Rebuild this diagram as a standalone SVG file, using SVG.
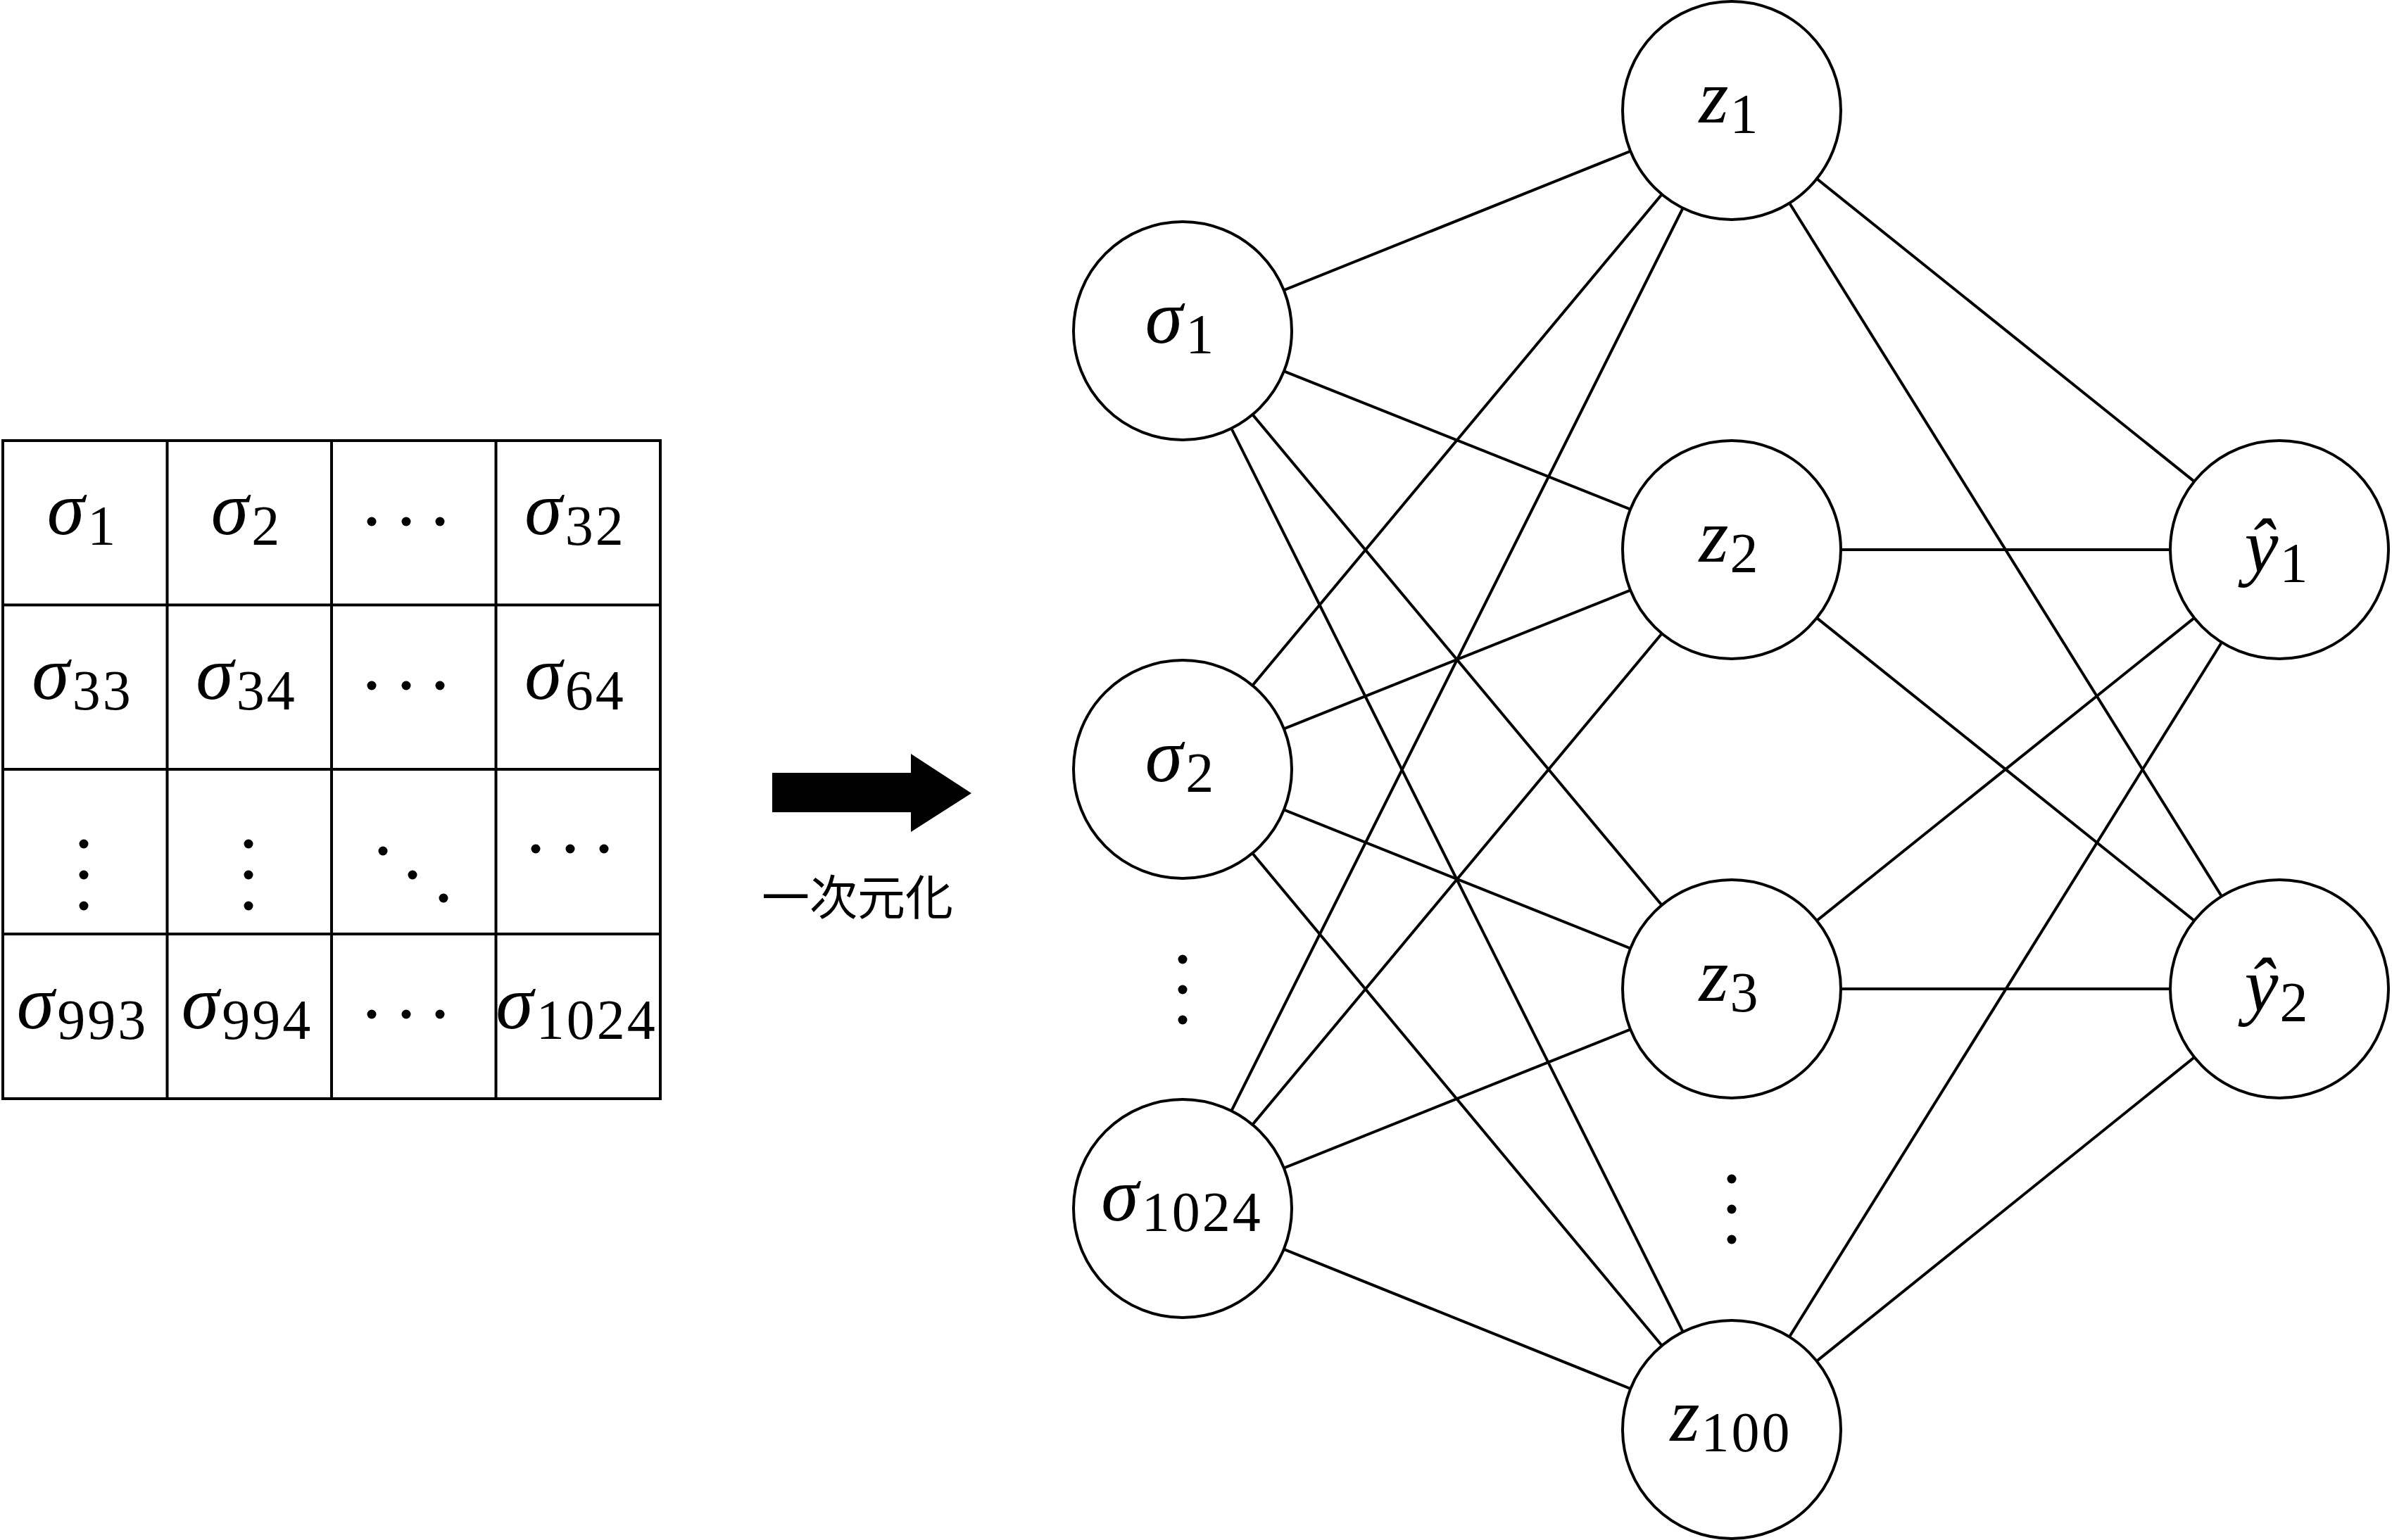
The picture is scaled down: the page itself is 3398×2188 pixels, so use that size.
<svg xmlns="http://www.w3.org/2000/svg" width="3398" height="2188" viewBox="0 0 3398 2188">
<style>
.ln{stroke:#000;stroke-width:4;fill:none}
.node{fill:#fff;stroke:#000;stroke-width:4}
.m{font-family:"Liberation Serif","DejaVu Serif",serif;font-size:108px;font-style:italic;text-anchor:middle;fill:#000}
.s{font-style:normal;font-size:80px;letter-spacing:3px}
.dot{fill:#000}
.cjk{font-family:"Noto Sans CJK JP","Noto Sans CJK SC",sans-serif;font-size:68px;text-anchor:middle;fill:#000}
</style>
<rect width="3398" height="2188" fill="#fff"/>
<g id="grid">
<rect class="ln" x="4" y="626" width="934" height="935"/>
<line class="ln" x1="237.5" y1="626" x2="237.5" y2="1561"/>
<line class="ln" x1="471" y1="626" x2="471" y2="1561"/>
<line class="ln" x1="704.5" y1="626" x2="704.5" y2="1561"/>
<line class="ln" x1="4" y1="859.5" x2="938" y2="859.5"/>
<line class="ln" x1="4" y1="1093" x2="938" y2="1093"/>
<line class="ln" x1="4" y1="1327" x2="938" y2="1327"/>
<text class="m" x="117" y="759">σ<tspan class="s" dx="4" dy="15">1</tspan></text>
<text class="m" x="350" y="759">σ<tspan class="s" dx="4" dy="15">2</tspan></text>
<text class="m" x="817" y="759">σ<tspan class="s" dx="4" dy="15">32</tspan></text>
<text class="m" x="117" y="993">σ<tspan class="s" dx="4" dy="15">33</tspan></text>
<text class="m" x="350" y="993">σ<tspan class="s" dx="4" dy="15">34</tspan></text>
<text class="m" x="817" y="993">σ<tspan class="s" dx="4" dy="15">64</tspan></text>
<text class="m" x="117" y="1461">σ<tspan class="s" dx="4" dy="15">993</tspan></text>
<text class="m" x="351" y="1461">σ<tspan class="s" dx="4" dy="15">994</tspan></text>
<text class="m" x="819" y="1461">σ<tspan class="s" dx="4" dy="15">1024</tspan></text>
<g class="dot">
<circle cx="528" cy="741" r="6.5"/><circle cx="577" cy="741" r="6.5"/><circle cx="625" cy="741" r="6.5"/>
<circle cx="528" cy="974" r="6.5"/><circle cx="577" cy="974" r="6.5"/><circle cx="625" cy="974" r="6.5"/>
<circle cx="528" cy="1441" r="6.5"/><circle cx="577" cy="1441" r="6.5"/><circle cx="625" cy="1441" r="6.5"/>
<circle cx="119" cy="1199" r="6.5"/><circle cx="119" cy="1243" r="6.5"/><circle cx="119" cy="1287" r="6.5"/>
<circle cx="353" cy="1199" r="6.5"/><circle cx="353" cy="1243" r="6.5"/><circle cx="353" cy="1287" r="6.5"/>
<circle cx="544" cy="1209" r="6.5"/><circle cx="586" cy="1243" r="6.5"/><circle cx="630" cy="1276" r="6.5"/>
<circle cx="761" cy="1206" r="6.5"/><circle cx="810" cy="1206" r="6.5"/><circle cx="858" cy="1206" r="6.5"/>
</g>
</g>
<g id="flatten-arrow">
<polygon points="1097,1098 1294,1098 1294,1071 1380,1127 1294,1182 1294,1154 1097,1154" fill="#000"/>
<text class="cjk" x="1218" y="1300">一次元化</text>
</g>
<g id="connectors">
<line class="ln" x1="1680" y1="470" x2="2460" y2="157"/>
<line class="ln" x1="1680" y1="470" x2="2460" y2="781"/>
<line class="ln" x1="1680" y1="470" x2="2460" y2="1405"/>
<line class="ln" x1="1680" y1="470" x2="2460" y2="2031"/>
<line class="ln" x1="1680" y1="1093" x2="2460" y2="157"/>
<line class="ln" x1="1680" y1="1093" x2="2460" y2="781"/>
<line class="ln" x1="1680" y1="1093" x2="2460" y2="1405"/>
<line class="ln" x1="1680" y1="1093" x2="2460" y2="2031"/>
<line class="ln" x1="1680" y1="1717" x2="2460" y2="157"/>
<line class="ln" x1="1680" y1="1717" x2="2460" y2="781"/>
<line class="ln" x1="1680" y1="1717" x2="2460" y2="1405"/>
<line class="ln" x1="1680" y1="1717" x2="2460" y2="2031"/>
<line class="ln" x1="2460" y1="157" x2="3238" y2="781"/>
<line class="ln" x1="2460" y1="157" x2="3238" y2="1405"/>
<line class="ln" x1="2460" y1="781" x2="3238" y2="781"/>
<line class="ln" x1="2460" y1="781" x2="3238" y2="1405"/>
<line class="ln" x1="2460" y1="1405" x2="3238" y2="781"/>
<line class="ln" x1="2460" y1="1405" x2="3238" y2="1405"/>
<line class="ln" x1="2460" y1="2031" x2="3238" y2="781"/>
<line class="ln" x1="2460" y1="2031" x2="3238" y2="1405"/>
</g>
<g id="sigma1"><circle class="node" cx="1680" cy="470" r="155"/><text class="m" x="1677" y="487">σ<tspan class="s" dx="4" dy="15">1</tspan></text></g>
<g id="sigma2"><circle class="node" cx="1680" cy="1093" r="155"/><text class="m" x="1677" y="1110">σ<tspan class="s" dx="4" dy="15">2</tspan></text></g>
<g id="sigma-dots" class="dot"><circle cx="1680" cy="1363" r="6.5"/><circle cx="1680" cy="1406" r="6.5"/><circle cx="1680" cy="1449" r="6.5"/></g>
<g id="sigma1024"><circle class="node" cx="1680" cy="1717" r="155"/><text class="m" x="1679" y="1734">σ<tspan class="s" dx="4" dy="15">1024</tspan></text></g>
<g id="z1"><circle class="node" cx="2460" cy="157" r="155"/><text class="m" x="2457" y="174">z<tspan class="s" dx="2" dy="15">1</tspan></text></g>
<g id="z2"><circle class="node" cx="2460" cy="781" r="155"/><text class="m" x="2457" y="798">z<tspan class="s" dx="2" dy="15">2</tspan></text></g>
<g id="z3"><circle class="node" cx="2460" cy="1405" r="155"/><text class="m" x="2457" y="1422">z<tspan class="s" dx="2" dy="15">3</tspan></text></g>
<g id="z-dots" class="dot"><circle cx="2460" cy="1675" r="6.5"/><circle cx="2460" cy="1718" r="6.5"/><circle cx="2460" cy="1761" r="6.5"/></g>
<g id="z100"><circle class="node" cx="2460" cy="2031" r="155"/><text class="m" x="2459" y="2047">z<tspan class="s" dx="2" dy="15">100</tspan></text></g>
<g id="y1"><circle class="node" cx="3238" cy="781" r="155"/><text class="m" x="3235" y="812">ŷ<tspan class="s" dx="2" dy="15">1</tspan></text></g>
<g id="y2"><circle class="node" cx="3238" cy="1405" r="155"/><text class="m" x="3235" y="1436">ŷ<tspan class="s" dx="2" dy="15">2</tspan></text></g>
</svg>
